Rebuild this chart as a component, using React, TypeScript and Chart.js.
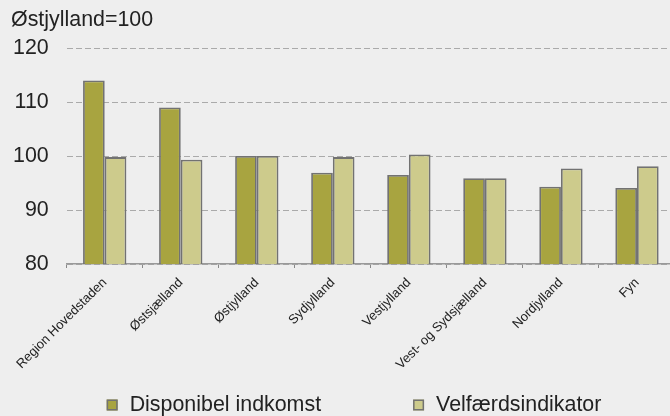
import React, { useEffect, useRef } from "react";
import { Chart, registerables } from "chart.js";

Chart.register(...registerables);

const categories = [
  "Region Hovedstaden",
  "Østsjælland",
  "Østjylland",
  "Sydjylland",
  "Vestjylland",
  "Vest- og Sydsjælland",
  "Nordjylland",
  "Fyn",
];
const disponibelIndkomst = [114, 109, 100, 96.9, 96.5, 95.9, 94.3, 94.1];
const velfaerdsindikator = [99.8, 99.3, 100, 99.8, 100.3, 95.9, 97.7, 98.1];
const yTicks = [80, 90, 100, 110, 120];
const titleText = "Østjylland=100";

const FONT = "'Liberation Sans', Arial, Helvetica, sans-serif";

const LEGEND = { centerX: 354, y: 405, box: 11, textGap: 12, gap: 92, size: 21.4 };

const bottomLegend = {
  id: "bottomLegend",
  afterDraw(chart: any) {
    const ctx = chart.ctx as CanvasRenderingContext2D;
    ctx.save();
    ctx.font = `${LEGEND.size}px ${FONT}`;
    const items = chart.data.datasets.map((d: any) => ({
      text: d.label as string,
      fill: d.backgroundColor as string,
      stroke: d.borderColor as string,
      w: LEGEND.box + LEGEND.textGap + ctx.measureText(d.label).width,
    }));
    const total =
      items.reduce((s: number, it: any) => s + it.w, 0) + LEGEND.gap * (items.length - 1);
    let x = LEGEND.centerX - total / 2;
    for (const it of items) {
      const by = LEGEND.y - LEGEND.box / 2;
      ctx.fillStyle = it.fill;
      ctx.fillRect(x, by, LEGEND.box, LEGEND.box);
      ctx.strokeStyle = it.stroke;
      ctx.lineWidth = 1.5;
      ctx.strokeRect(x + 0.75, by + 0.75, LEGEND.box - 1.5, LEGEND.box - 1.5);
      ctx.fillStyle = "#222222";
      ctx.textAlign = "left";
      ctx.textBaseline = "middle";
      ctx.fillText(it.text, x + LEGEND.box + LEGEND.textGap, LEGEND.y);
      x += it.w + LEGEND.gap;
    }
    ctx.restore();
  },
};

export default function App() {
  const ref = useRef<HTMLCanvasElement | null>(null);

  useEffect(() => {
    if (!ref.current) return;
    Chart.defaults.font.family = FONT;
    const chart = new Chart(ref.current, {
      type: "bar",
      data: {
        labels: categories,
        datasets: [
          {
            label: "Disponibel indkomst",
            data: disponibelIndkomst,
            backgroundColor: "#a8a440",
            borderColor: "#727272",
            borderWidth: 1.8,
            categoryPercentage: 0.57,
            barPercentage: 1,
          },
          {
            label: "Velfærdsindikator",
            data: velfaerdsindikator,
            backgroundColor: "#cdcb8c",
            borderColor: "#727272",
            borderWidth: 1.8,
            categoryPercentage: 0.57,
            barPercentage: 1,
          },
        ],
      },
      options: {
        responsive: false,
        animation: false,
        layout: { padding: { left: 11, right: 0, top: 0, bottom: 40 } },
        plugins: {
          tooltip: { enabled: false },
          legend: { display: false },
          title: {
            display: true,
            text: titleText,
            align: "start",
            color: "#222222",
            font: { size: 21.4, weight: "normal", family: FONT },
            padding: { top: 7.2, bottom: 15.2 },
          },
        },
        scales: {
          x: {
            grid: {
              display: true,
              drawOnChartArea: false,
              drawTicks: true,
              tickLength: 4,
              color: "#888888",
              offset: true,
            },
            border: { display: true, color: "#999999", width: 1.5 },
            ticks: {
              color: "#222222",
              font: { size: 13, family: FONT },
              minRotation: 45,
              maxRotation: 45,
              padding: 7,
              autoSkip: false,
            },
            afterFit: (scale: any) => {
              scale.height = 112;
            },
          },
          y: {
            min: 80,
            max: 120,
            afterBuildTicks: (scale: any) => {
              scale.ticks = yTicks.map((v) => ({ value: v }));
            },
            grid: {
              color: "#aaaaaa",
              lineWidth: 1,
              drawTicks: false,
            },
            border: { display: false, dash: [6, 3] },
            ticks: {
              color: "#222222",
              font: { size: 21.4, family: FONT },
              padding: 18,
            },
            afterFit: (scale: any) => {
              scale.width = 55.7;
            },
          },
        },
      },
      plugins: [bottomLegend],
    });
    return () => chart.destroy();
  }, []);

  return (
    <div
      style={{
        position: "absolute",
        left: 0,
        top: 0,
        width: 670,
        height: 416,
        overflow: "hidden",
        background: "#eeeeee",
      }}
    >
      <canvas ref={ref} width={675} height={416} style={{ width: 675, height: 416, display: "block" }} />
    </div>
  );
}
